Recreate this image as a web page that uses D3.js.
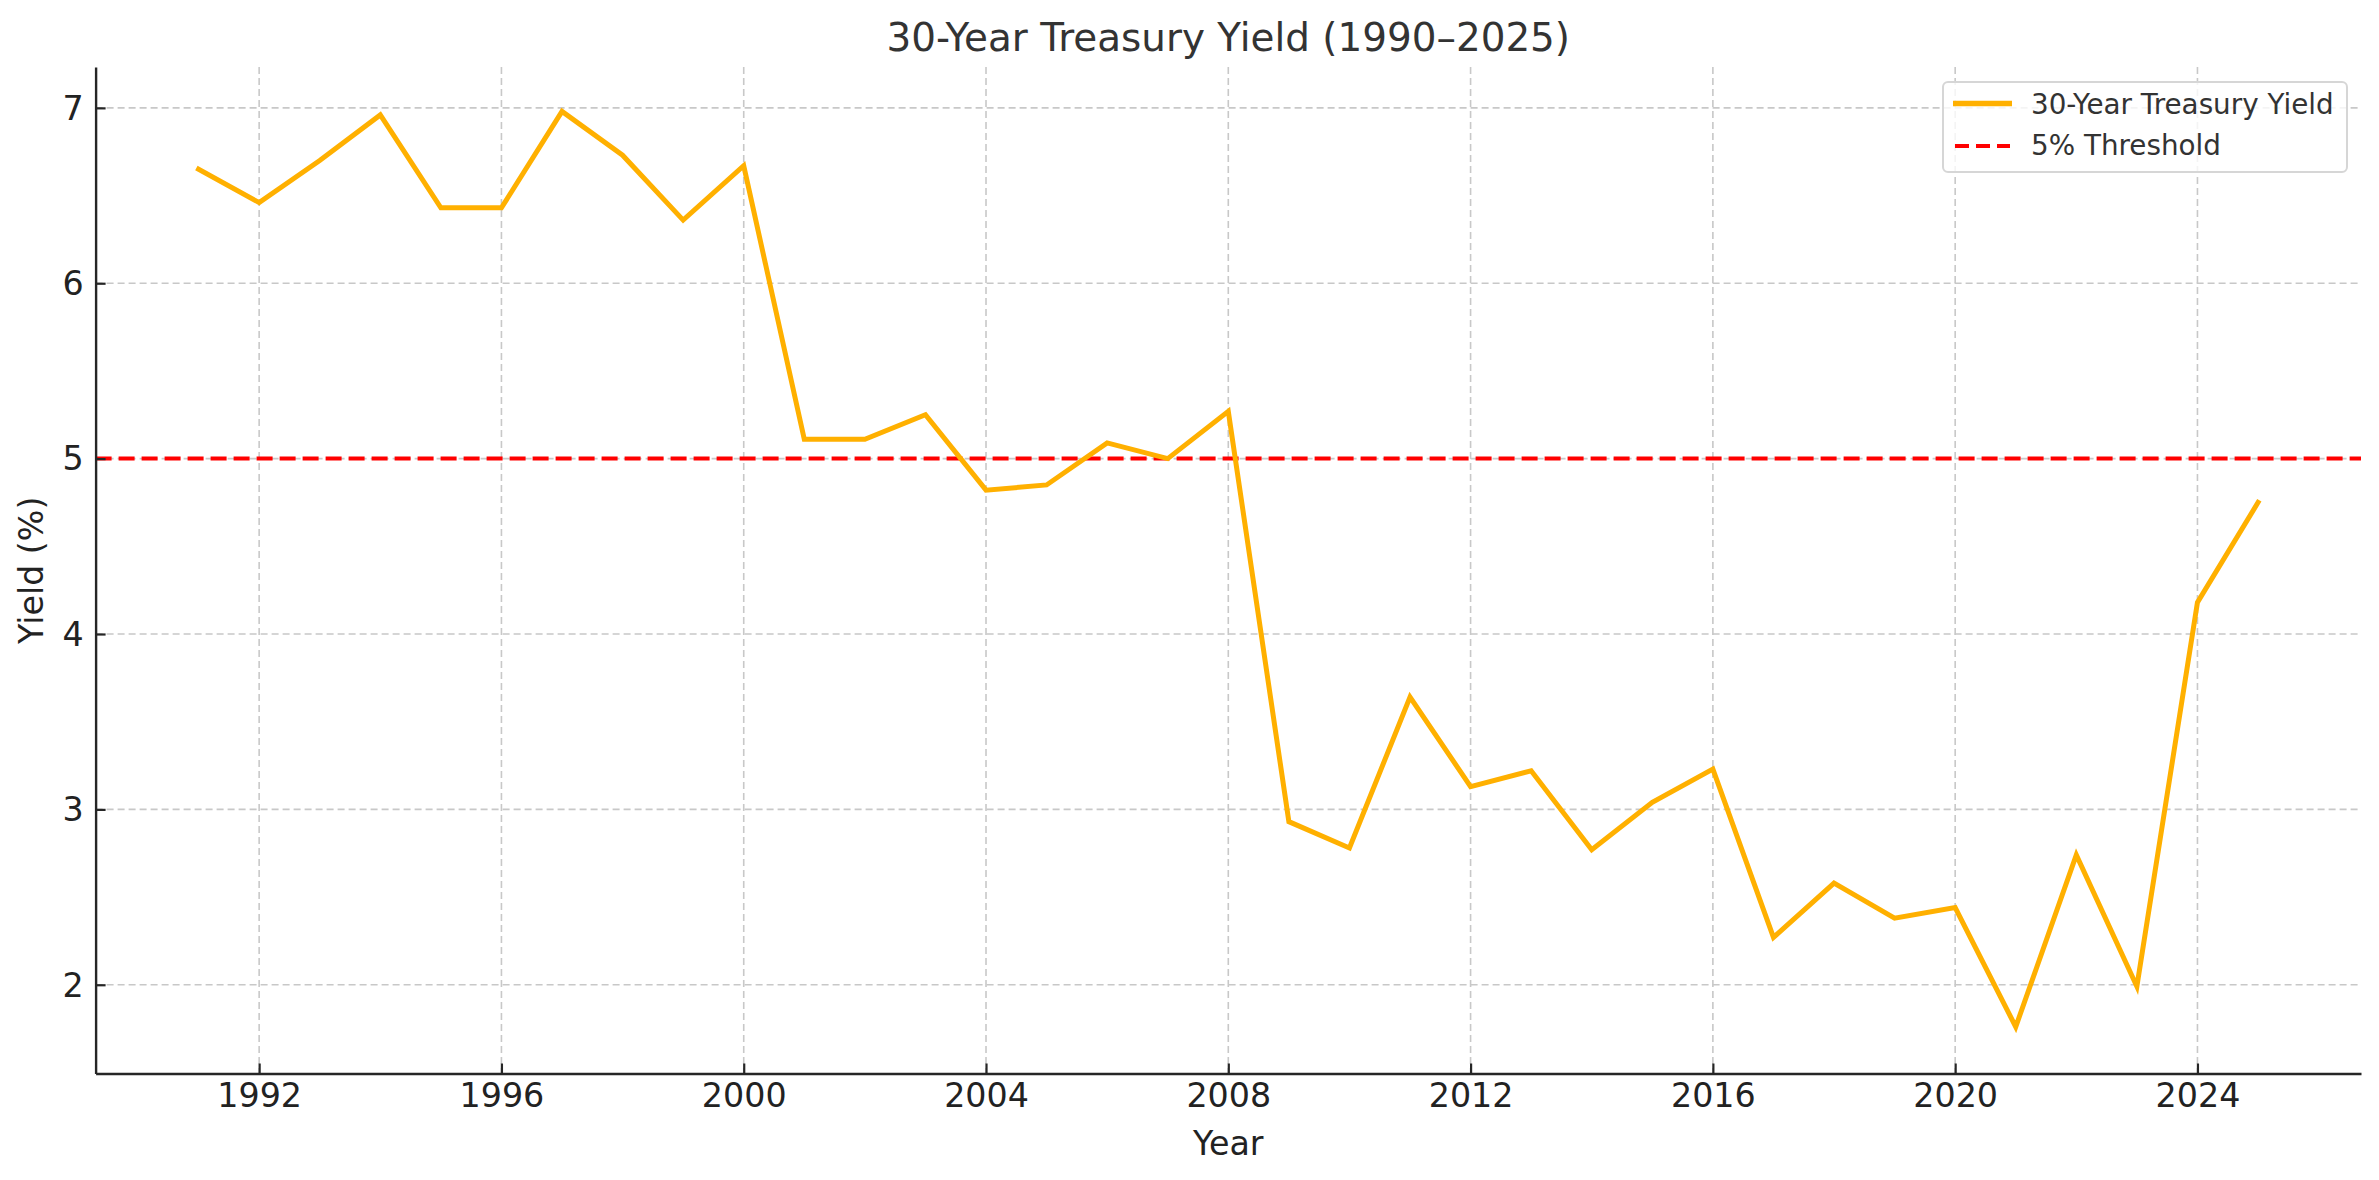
<!DOCTYPE html>
<html>
<head>
<meta charset="utf-8">
<script src="https://cdn.jsdelivr.net/npm/d3@7"></script>
<style>
  html, body { margin: 0; padding: 0; background: #fff; }
  svg { display: block; font-family: "DejaVu Sans", sans-serif; }
</style>
</head>
<body>
<svg id="chart" width="2379" height="1180"></svg>
<script>
// ---- data ----
const years = [1991,1992,1993,1994,1995,1996,1997,1998,1999,2000,
               2001,2002,2003,2004,2005,2006,2007,2008,2009,2010,
               2011,2012,2013,2014,2015,2016,2017,2018,2019,2020,
               2021,2022,2023,2024,2025];
const yields = [6.65,6.46,6.70,6.96,6.43,6.43,6.98,6.73,6.36,6.67,
                5.11,5.11,5.25,4.82,4.85,5.09,5.00,5.27,2.93,2.78,
                3.64,3.13,3.22,2.77,3.04,3.23,2.27,2.58,2.38,2.44,
                1.76,2.74,1.99,4.18,4.75];
const threshold = 5;
const xTicks = [1992,1996,2000,2004,2008,2012,2016,2020,2024];
const yTicks = [2,3,4,5,6,7];
const seriesNames = ["30-Year Treasury Yield", "5% Threshold"];
const titleText = "30-Year Treasury Yield (1990\u20132025)";
const xLabelText = "Year";
const yLabelText = "Yield (%)";

// ---- layout ----
const W = 2379, H = 1180;
const m = {left: 95.6, right: W - 2361, top: 67, bottom: H - 1073.5};
const iw = W - m.left - m.right, ih = H - m.top - m.bottom;

const svg = d3.select("#chart");
const g = svg.append("g").attr("transform", `translate(${m.left},${m.top})`);

const x = d3.scaleLinear().domain([1989.3, 2026.7]).range([0, iw]);
const y = d3.scaleLinear().domain([1.494, 7.233]).range([ih, 0]);

// grid
const gridColor = "#c8c8c8";
g.append("g").selectAll("line").data(xTicks).join("line")
  .attr("x1", d => x(d)).attr("x2", d => x(d))
  .attr("y1", 0).attr("y2", ih)
  .attr("stroke", gridColor).attr("stroke-width", 1.6)
  .attr("stroke-dasharray", "7,4");
g.append("g").selectAll("line").data(yTicks).join("line")
  .attr("y1", d => y(d)).attr("y2", d => y(d))
  .attr("x1", 0).attr("x2", iw)
  .attr("stroke", gridColor).attr("stroke-width", 1.6)
  .attr("stroke-dasharray", "7,4");

// threshold line
g.append("line")
  .attr("x1", 0).attr("x2", iw)
  .attr("y1", y(threshold)).attr("y2", y(threshold))
  .attr("stroke", "#ff0000").attr("stroke-width", 4)
  .attr("stroke-dasharray", "16,7");

// series line
const line = d3.line().x((d, i) => x(years[i])).y(d => y(d));
g.append("path")
  .datum(yields)
  .attr("d", line)
  .attr("fill", "none")
  .attr("stroke", "#ffb000")
  .attr("stroke-width", 5)
  .attr("stroke-linejoin", "miter")
  .attr("stroke-linecap", "square");

// axes
const axisColor = "#262626";
const xAxis = d3.axisBottom(x).tickValues(xTicks).tickFormat(d3.format("d"))
  .tickSizeInner(-10).tickSizeOuter(0).tickPadding(12);
const gx = g.append("g").attr("transform", `translate(0,${ih})`).call(xAxis);
const yAxis = d3.axisLeft(y).tickValues(yTicks).tickFormat(d3.format("d"))
  .tickSizeInner(-10).tickSizeOuter(0).tickPadding(12);
const gy = g.append("g").call(yAxis);

[gx, gy].forEach(a => {
  a.select(".domain").attr("stroke", axisColor).attr("stroke-width", 2.4);
  a.selectAll(".tick line").attr("stroke", axisColor).attr("stroke-width", 2.2);
  a.selectAll(".tick text").attr("fill", "#222")
    .attr("font-size", 33.3).attr("font-family", "DejaVu Sans");
});
gx.selectAll(".tick text").attr("y", 10).attr("dy", "0.71em");
gy.selectAll(".tick text").attr("x", -12).attr("dy", "0.34em");

// title
svg.append("text")
  .attr("x", m.left + iw / 2).attr("y", 51)
  .attr("text-anchor", "middle")
  .attr("font-size", 38.9).attr("fill", "#333")
  .text(titleText);

// axis labels
svg.append("text")
  .attr("x", m.left + iw / 2).attr("y", 1155)
  .attr("text-anchor", "middle")
  .attr("font-size", 33.3).attr("fill", "#222")
  .text(xLabelText);
svg.append("text")
  .attr("transform", `translate(43,${m.top + ih / 2}) rotate(-90)`)
  .attr("text-anchor", "middle")
  .attr("font-size", 33.3).attr("fill", "#222")
  .text(yLabelText);

// legend
const lg = svg.append("g").attr("transform", "translate(1943,82)");
lg.append("rect")
  .attr("x", 0).attr("y", 0).attr("width", 404).attr("height", 90)
  .attr("rx", 5).attr("ry", 5)
  .attr("fill", "#fff").attr("fill-opacity", 0.8)
  .attr("stroke", "#d6d6d6").attr("stroke-width", 2);
lg.append("line")
  .attr("x1", 10).attr("x2", 69).attr("y1", 21.5).attr("y2", 21.5)
  .attr("stroke", "#ffb000").attr("stroke-width", 5.5);
lg.append("line")
  .attr("x1", 12).attr("x2", 67).attr("y1", 64).attr("y2", 64)
  .attr("stroke", "#ff0000").attr("stroke-width", 4)
  .attr("stroke-dasharray", "14,7");
lg.selectAll("text.lbl").data(seriesNames).join("text")
  .attr("class", "lbl")
  .attr("x", 88).attr("y", (d, i) => 32 + i * 41)
  .attr("font-size", 27.8).attr("fill", "#333")
  .text(d => d);
</script>
</body>
</html>
